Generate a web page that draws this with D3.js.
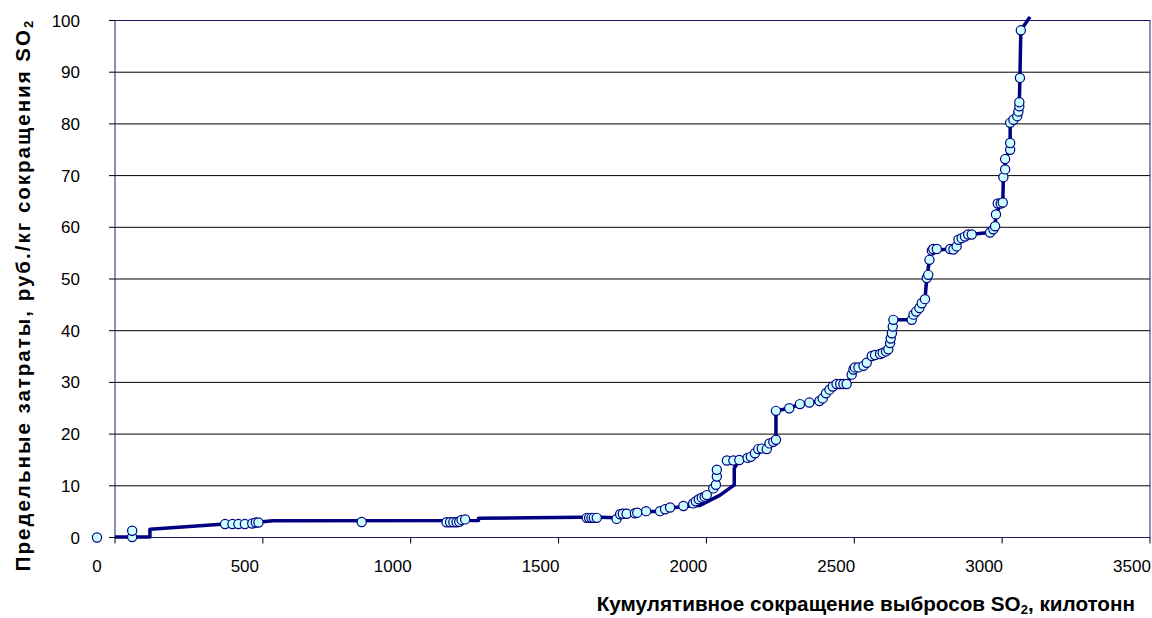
<!DOCTYPE html>
<html><head><meta charset="utf-8">
<script src="https://cdn.jsdelivr.net/npm/d3@7/dist/d3.min.js"></script>
<style>body{margin:0;background:#fff}svg{display:block}text{font-family:"Liberation Sans",Arial,sans-serif}</style>
</head><body><svg id="c" width="1152" height="618"></svg>
<script>
// ---- data (x: cumulative SO2 reduction, kt; y: marginal cost, rub/kg) ----
const xTicks = [0, 500, 1000, 1500, 2000, 2500, 3000, 3500];
const yTicks = [0, 10, 20, 30, 40, 50, 60, 70, 80, 90, 100];

const curveX = [0,179,179,433,549,596,1290,1290,1633,1700,1757,1770,1800,1857,1904,1921,1940,1983,2039,2107,2146,2155,2155,2169,2172,2203,2225,2248,2274,2296,2296,2341,2377,2409,2443,2465,2488,2501,2535,2552,2563,2592,2620,2668,2682,2693,2755,2800,2806,2815,2823,2885,2907,2913,2946,3020,3037,3040,3054,3063,3065,3071,3071,3088,3088,3112,3119,3121,3124,3155];
const curveY = [0.1,0.1,1.6,2.6,3.0,3.25,3.3,3.7,3.9,3.9,3.8,4.4,4.6,5.0,5.1,5.4,5.7,6.0,6.2,8.2,9.8,10.2,13.4,14.7,14.9,15.1,16.3,17.2,18.2,18.9,24.5,25.0,25.8,26.1,26.4,27.9,29.2,29.7,29.7,31.5,32.9,33.2,35.1,36.0,37.6,42.1,42.1,46.1,50.2,53.7,55.5,55.8,56.3,57.6,58.6,59.0,60.2,62.4,64.4,64.8,69.7,71.2,73.2,75.0,80.2,81.5,84.2,88.9,98.1,100.7];

const pointX = [0,119,119,433,458,478,500,525,537,546,895,1182,1194,1205,1216,1225,1233,1245,1656,1664,1672,1680,1690,1757,1769,1778,1791,1819,1827,1857,1904,1921,1938,1983,2016,2025,2035,2045,2055,2062,2084,2093,2096,2096,2130,2152,2172,2200,2211,2225,2236,2248,2265,2274,2287,2296,2296,2341,2377,2409,2443,2454,2465,2477,2488,2501,2513,2524,2535,2552,2558,2563,2575,2592,2603,2620,2631,2648,2657,2668,2676,2682,2684,2688,2691,2693,2755,2761,2770,2781,2789,2800,2806,2811,2815,2823,2828,2840,2885,2896,2907,2913,2924,2935,2946,2958,3020,3031,3037,3040,3046,3056,3063,3065,3071,3071,3088,3088,3088,3099,3112,3116,3119,3119,3121,3124];
const pointY = [0,0.1,1.3,2.6,2.6,2.6,2.6,2.7,2.9,2.9,3.0,2.95,2.95,2.95,2.95,3.05,3.4,3.5,3.8,3.8,3.8,3.8,3.8,3.6,4.5,4.6,4.6,4.7,4.8,5.1,5.1,5.45,5.8,6.1,6.6,7.0,7.4,7.7,7.9,8.2,9.5,10.2,11.8,13.1,14.9,14.9,15.0,15.4,15.6,16.3,17.1,17.2,17.1,18.2,18.5,18.9,24.5,25.0,25.8,26.1,26.4,26.9,27.9,28.6,29.2,29.7,29.7,29.7,29.7,31.5,32.5,32.9,32.9,33.2,33.8,35.1,35.3,35.5,35.7,36.0,36.4,37.6,38.5,39.5,40.8,42.1,42.1,43.1,43.7,44.4,45.3,46.1,50.2,50.8,53.7,55.5,55.8,55.8,55.8,55.7,56.3,57.6,57.9,58.2,58.6,58.6,59.0,59.6,60.2,62.5,64.6,64.6,64.8,69.7,71.2,73.2,75.0,76.3,80.2,80.8,81.5,82.4,83.4,84.2,88.9,98.1];

const xTitle = "Кумулятивное сокращение выбросов SO";
const xTitleTail = ", килотонн";
const yTitle = "Предельные затраты, руб./кг сокращения SO";

// ---- layout ----
const svg = d3.select("#c");
const L = 115, R = 1150, T = 20.5, B = 537.5;
const labelShift = -18;
const x = d3.scaleLinear().domain([0, 3500]).range([L, R]);
const xs = d3.scaleLinear().domain([0, 3500]).range([L + labelShift, R + labelShift]);
const y = d3.scaleLinear().domain([0, 100]).range([B, T]);

svg.append("defs").append("clipPath").attr("id", "clip")
  .append("rect").attr("x", L).attr("y", 0).attr("width", 1152 - L).attr("height", B + 2);

// gridlines
svg.append("g").selectAll("line").data(yTicks.filter(d => d > 0 && d < 100)).join("line")
  .attr("x1", L).attr("x2", R).attr("y1", d => y(d)).attr("y2", d => y(d))
  .attr("stroke", "#000").attr("stroke-width", 1);

// plot frame
svg.append("rect").attr("x", L).attr("y", T).attr("width", R - L).attr("height", B - T)
  .attr("fill", "none").attr("stroke", "#1a1a70").attr("stroke-width", 1);

// x axis ticks and labels
const gx = svg.append("g");
gx.selectAll("line").data(xTicks).join("line")
  .attr("x1", d => x(d)).attr("x2", d => x(d)).attr("y1", B).attr("y2", B + 6)
  .attr("stroke", "#000");
gx.selectAll("text").data(xTicks).join("text")
  .attr("x", d => xs(d)).attr("y", 572).attr("text-anchor", "middle")
  .attr("font-size", 17).text(d => d);

// y axis ticks and labels
const gy = svg.append("g");
gy.selectAll("line").data(yTicks).join("line")
  .attr("x1", L - 6).attr("x2", L).attr("y1", d => y(d)).attr("y2", d => y(d))
  .attr("stroke", "#000");
gy.selectAll("text").data(yTicks).join("text")
  .attr("x", 80).attr("y", d => y(d) + 6).attr("text-anchor", "end")
  .attr("font-size", 17).text(d => d);

// curve
const curve = curveX.map((v, i) => [v, curveY[i]]);
svg.append("path").datum(curve).attr("clip-path", "url(#clip)")
  .attr("d", d3.line().x(d => xs(d[0])).y(d => y(d[1])))
  .attr("fill", "none").attr("stroke", "#000080").attr("stroke-width", 3.5)
  .attr("stroke-linejoin", "round");

// markers
const pts = pointX.map((v, i) => [v, pointY[i]]);
svg.append("g").selectAll("circle").data(pts).join("circle")
  .attr("cx", d => xs(d[0])).attr("cy", d => y(d[1])).attr("r", 4.6)
  .attr("fill", "#ccffff").attr("stroke", "#000080").attr("stroke-width", 1.2);

// titles
const xt = svg.append("text").attr("x", 1135).attr("y", 611).attr("text-anchor", "end")
  .attr("font-size", 20.7).attr("font-weight", "bold");
xt.append("tspan").text(xTitle);
xt.append("tspan").attr("font-size", 13).attr("dy", 3).text("2");
xt.append("tspan").attr("dy", -3).text(xTitleTail);

const yt = svg.append("text").attr("transform", "translate(30,295) rotate(-90)")
  .attr("text-anchor", "middle").attr("font-size", 20.5).attr("font-weight", "bold")
  .attr("letter-spacing", 2);
yt.append("tspan").text(yTitle);
yt.append("tspan").attr("font-size", 13).attr("dy", 3).text("2");
</script></body></html>
